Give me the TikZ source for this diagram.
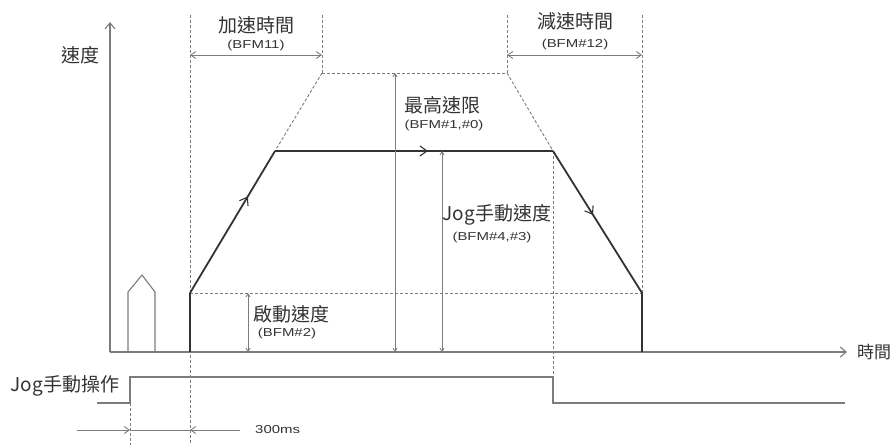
\documentclass[tikz,border=0pt]{standalone}
\usepackage{fontspec}
\newfontfamily\cjk{Noto Sans CJK TC}
\newfontfamily\bfmfont[FakeStretch=1.3]{Liberation Sans}
\usepackage{tikz}
\usetikzlibrary{arrows.meta}
\usetikzlibrary{positioning}
\usetikzlibrary{decorations.markings}
\definecolor{txtgray}{HTML}{333333}
\definecolor{lngray}{HTML}{7C7C7C}
\definecolor{prgray}{HTML}{333333}

\tikzset{
  axis/.style={draw=lngray, line width=1.1pt},
  guide/.style={draw=lngray, line width=0.9pt, dash pattern=on 3pt off 2pt},
  dimline/.style={draw=lngray, line width=0.9pt, {Straight Barb[length=5pt,width=7pt]}-{Straight Barb[length=5pt,width=7pt]}},
  vdim/.style={draw=lngray, line width=0.9pt, {Straight Barb[length=3pt,width=4pt]}-{Straight Barb[length=3pt,width=4pt]}},
  profile/.style={draw=prgray, line width=1.8pt},
  midarrow/.style={postaction={decorate}, decoration={markings,
      mark=at position #1 with {\arrow[prgray, line width=1.1pt]{Straight Barb[length=7pt,width=10pt]}}}},
  biglabel/.style={inner sep=0pt, text=txtgray, font=\cjk\fontsize{19}{19}\selectfont},
  smalllabel/.style={inner sep=0pt, text=txtgray, font=\bfmfont\fontsize{11.5}{12}\selectfont},
}

\begin{document}
\begin{tikzpicture}[x=1pt, y=-1pt]
  \useasboundingbox (0,0) rectangle (896,445);

  % axes
  \coordinate (o) at (110,352);
  \coordinate (vtop) at (110,22);
  \coordinate (hend) at (847,352);
  \draw[axis, -{Straight Barb[length=6pt,width=10pt]}] (o) -- (vtop);
  \draw[axis, -{Straight Barb[length=6pt,width=10pt]}] (o) -- (hend);
  \node (speed) [biglabel] at (80,55) {速度};
  \node (time) [biglabel, font=\cjk\fontsize{17}{17}\selectfont, right=10pt of hend] {時間};

  % profile corners
  \coordinate (s0) at (190,352);
  \coordinate (s1) at (190,293);
  \coordinate (s2) at (275,151);
  \coordinate (s3) at (553,151);
  \coordinate (s4) at (642,293);
  \coordinate (s5) at (642,352);
  \coordinate (t1) at (322,73);
  \coordinate (t2) at (507,73);

  % guide lines
  \draw[guide] (190,15) -- (190,445);
  \draw[guide] (322,15) -- (t1);
  \draw[guide] (507,15) -- (t2);
  \draw[guide] (642,15) -- (s4);
  \draw[guide] (s3) -- (553,403);
  \draw[guide] (130,403) -- (130,445);
  \draw[guide] (s1) -- (s4);
  \draw[guide] (t1) -- (t2);
  \draw[guide] (t1) -- (s2);
  \draw[guide] (t2) -- (s3);

  % short pulse
  \draw[axis] (128,352) -- (128,292) -- (142,275) -- (155,292) -- (155,352);

  % speed profile
  \draw[profile] (s0) -- (s1);
  \draw[profile, midarrow=0.68] (s1) -- (s2);
  \draw[profile, midarrow=0.55] (s2) -- (s3);
  \draw[profile, midarrow=0.45] (s3) -- (s4);
  \draw[profile] (s4) -- (s5);

  % acceleration / deceleration time
  \draw[dimline] (190,55) -- (322,55);
  \node (acc) [biglabel] at (256,25) {加速時間};
  \node (accbfm) [smalllabel, below=6pt of acc] {(BFM11)};
  \draw[dimline] (507,55) -- (642,55);
  \node (dec) [biglabel] at (575,21) {減速時間};
  \node (decbfm) [smalllabel, below=9pt of dec] {(BFM\#12)};

  % speed levels
  \draw[vdim] (395,73) -- (395,352);
  \node (vmax) [biglabel] at (442,105) {最高速限};
  \node (vmaxbfm) [smalllabel, below=6pt of vmax, xshift=2pt] {(BFM\#1,\#0)};
  \draw[vdim] (442,151) -- (442,352);
  \node (vjog) [biglabel] at (497,215) {Jog手動速度};
  \node (vjogbfm) [smalllabel, below=6pt of vjog, xshift=-5pt] {(BFM\#4,\#3)};
  \draw[vdim] (248,293) -- (248,352);
  \node (vstart) [biglabel] at (291,314) {啟動速度};
  \node (vstartbfm) [smalllabel, below=5pt of vstart, xshift=-4pt] {(BFM\#2)};

  % jog signal
  \draw[axis] (97,403) -- (130,403) -- (130,377) -- (553,377) -- (553,403) -- (845,403);
  \node (jogop) [biglabel] at (65,386) {Jog手動操作};

  % 300ms
  \coordinate (m0) at (77,430);
  \coordinate (m1) at (130,430);
  \coordinate (m2) at (190,430);
  \coordinate (m3) at (240,430);
  \draw[axis, line width=0.9pt, -{Straight Barb[length=5pt,width=7pt]}] (m0) -- (m1);
  \draw[axis, line width=0.9pt] (m1) -- (m2);
  \draw[axis, line width=0.9pt, -{Straight Barb[length=5pt,width=7pt]}] (m3) -- (m2);
  \node (delay) [smalllabel, right=15pt of m3] {300ms};
\end{tikzpicture}
\end{document}
